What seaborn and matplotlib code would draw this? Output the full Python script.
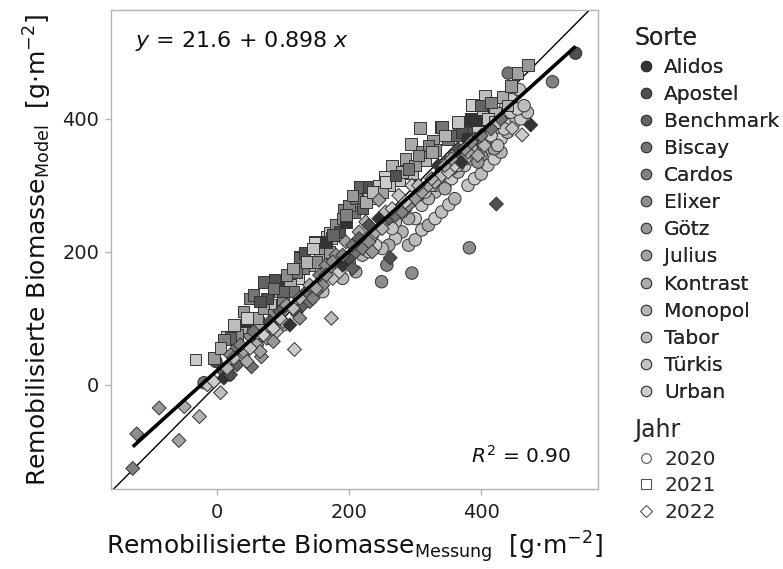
import matplotlib
matplotlib.use("Agg")
import matplotlib.pyplot as plt
from matplotlib.lines import Line2D
import seaborn as sns
import numpy as np
import pandas as pd

sns.set_theme(style="white")
plt.rcParams["font.family"] = ["DejaVu Sans"]
plt.rcParams["mathtext.fontset"] = "dejavusans"

# ---------------- data ----------------
sorten = ["Alidos", "Apostel", "Benchmark", "Biscay", "Cardos", "Elixer", "Götz",
          "Julius", "Kontrast", "Monopol", "Tabor", "Türkis", "Urban"]
jahre = ["2020", "2021", "2022"]
code = dict(zip("ABCDEFGHIJKLM", sorten))

# 2020 (circles)
x20 = [-2, -20, 9, 18, 170, 200, 220, 230, 249, 257, 290, 300, 310, 295, 320, 330, 340, 351, 360, 371,
       382, 380, 390, 400, 410, 420, 430, 340, 350, 360, 370, 380, 390, 400, 410, 417, 425, 437, 446, 458,
       441, 508, 543, 330, 345, 355, 365, 375, 385, 395, 405, 415, 430, 440, 450, 460, 470, 280, 270, 260,
       250, 240, 310, 320, 330, 300, 290, 280, 270, 400, 420, 435, 445, 210, 190, 160, 140, 120, 100, 80,
       60, 40, 215, 235, 255, 265, 285, 305, 315, 325, 335, 345, 355, 365, 375, 385, 395, 405, 415, 425,
       435, 455, 465, 30, 50, 70, 90]
y20 = [35, 3, 23, 15, 176, 185, 195, 200, 155, 180, 210, 218, 233, 168, 240, 250, 260, 271, 280, 338,
       206, 300, 310, 317, 330, 340, 350, 323, 335, 345, 350, 360, 370, 380, 390, 398, 380, 418, 429, 444,
       469, 456, 499, 290, 300, 310, 320, 330, 340, 350, 355, 365, 370, 380, 395, 400, 410, 230, 220, 210,
       205, 210, 270, 280, 300, 250, 250, 260, 245, 345, 355, 395, 410, 170, 160, 140, 130, 110, 90, 70,
       60, 40, 215, 225, 240, 235, 265, 285, 290, 300, 310, 295, 325, 330, 340, 355, 335, 365, 375, 360,
       385, 415, 420, 55, 75, 85, 100]
s20 = ("BDCF" "GHJKFE" "JKLFIMKLJM" "FLMKLMJLKM" "LMKLMJKMML" "DEBKLMJLKM" "LKMJLMKJLI"
       "KMLJKMILKG" "HMLIJKHLIG" "JKLMKLJMKL" "MIKLMJGLMK" "LMKDFHE")

# 2021 (squares)
x21 = [-33, 14, 33, 36, 59, 62, 40, 30, 50, 55, 71, 87, 105, 123, 125, 80, 95, 110, 60, 70,
       85, 100, 115, 125, 132, 148, 148, 166, 170, 173, 140, 155, 160, 180, 192, 207, 216, 229, 239, 254,
       275, 295, 315, 294, 307, 327, 330, 339, 341, 366, 381, 391, 386, 402, 406, 421, 432, 455, 471, 190,
       200, 210, 220, 185, 195, 230, 245, 260, 265, 280, 285, 300, 310, 320, 350, 360, 370, 380, 395, 410,
       420, 440, 300, 250, 170, 150, 130, 120, 100, 75, 45, 20, 10, -5, 5, 25, 45, 65, 85, 105,
       115, 135, 145, 165, 175, 195, 205, 225, 235, 255, 270, 290, 305, 325, 345, 365, 385, 400, 415, 445]
y21 = [38, 72, 86, 86, 90, 93, 110, 75, 130, 135, 155, 158, 159, 161, 193, 120, 140, 150, 100, 115,
       105, 125, 140, 191, 198, 215, 213, 222, 228, 221, 180, 195, 205, 240, 263, 260, 298, 298, 289, 313,
       308, 319, 338, 362, 386, 367, 353, 388, 388, 388, 388, 396, 421, 414, 435, 409, 433, 469, 481, 250,
       270, 280, 265, 230, 245, 280, 300, 300, 330, 320, 340, 330, 350, 360, 370, 375, 380, 370, 380, 400,
       395, 420, 300, 290, 200, 185, 175, 170, 140, 130, 95, 70, 68, 40, 55, 90, 100, 125, 145, 165,
       175, 185, 205, 215, 225, 255, 285, 275, 290, 305, 315, 325, 345, 350, 375, 395, 400, 420, 425, 450]
s21 = ("MLKJIHGFEDCBAMLKJIHGFEDCBAMLKJIHGFEDCBAMLKJIHGFEDCBAMLKJIHGFEDCBAMLKJIHGFEDCBAMLKJIHGFEDCBACEGIKM"
       "BDFHJLACEGIKMBDFHJLACEGIK")

# 2022 (diamonds)
x22 = [-128, -122, -88, -58, -50, -27, 5, -15, -5, 10, 20, 30, 52, 67, 40, 60, 75, 90, 100, 117,
       110, 120, 130, 140, 150, 160, 173, 175, 185, 190, 200, 205, 210, 220, 230, 235, 245, 240, 250, 262,
       260, 270, 280, 290, 300, 310, 320, 330, 340, 350, 360, 370, 380, 395, 405, 423, 447, 462, 475, 80,
       95, 55, 35, 20, 105, 135, 155, 165, 180, 195, 215, 225, 255, 275, 295, 335, 365, 390, 415, 145,
       125, 85, 65, 45, 15, 25, 50, 70, 85, 95, 115, 125, 140, 150, 165, 175, 190, 205, 215, 230,
       245, 265, 285, 305, 325, 345, 355, 375, 385, 400, 430]
y22 = [-126, -74, -35, -84, -33, -48, -12, 0, 5, 10, 15, 30, 27, 42, 50, 60, 70, 80, 95, 53,
       90, 110, 120, 125, 140, 150, 100, 160, 170, 180, 190, 175, 200, 205, 215, 200, 278, 230, 235, 191,
       250, 255, 260, 270, 280, 290, 300, 305, 315, 320, 330, 335, 350, 345, 360, 272, 386, 376, 391, 95,
       110, 80, 60, 45, 120, 140, 165, 180, 195, 215, 230, 245, 260, 285, 300, 330, 355, 370, 385, 130,
       100, 65, 50, 35, 25, 40, 55, 75, 85, 100, 115, 130, 150, 145, 165, 185, 195, 210, 220, 240,
       250, 265, 275, 300, 310, 330, 340, 355, 365, 375, 400]
s22 = ("EFGHIJKLMABCDGHIJKLMABCDEFKLMABCDEFGHIJBCDEFGHIJKLMAHIJBLMABCDEFGDEFGHIJKLMABCDEFGHIJKLM"
       "MLKJIHGFEDCBAMLKJIHGFEDCBAMLK")

intercept, slope = 21.6, 0.898
r2 = 0.90

# ---------------- frame ----------------
frames = []
for yr, xs, ys, ss in [("2020", x20, y20, s20), ("2021", x21, y21, s21), ("2022", x22, y22, s22)]:
    n = min(len(xs), len(ys))
    codes = (ss * 3)[:n]
    frames.append(pd.DataFrame({"Messung": xs[:n], "Model": ys[:n],
                                "Sorte": [code[c] for c in codes], "Jahr": yr}))
df = pd.concat(frames, ignore_index=True)

# grey palette (ggplot-like grey scale with gamma 2.2, start 0.2, end 0.8)
g0, g1, gam = 0.2 ** 2.2, 0.8 ** 2.2, 2.2
greys = [str(round((g0 + (g1 - g0) * i / (len(sorten) - 1)) ** (1 / gam), 3)) for i in range(len(sorten))]
palette = dict(zip(sorten, greys))
markers = {"2020": "o", "2021": "s", "2022": "D"}
sizes = {"2020": 80, "2021": 70, "2022": 50}
edge = "#333333"

fig = plt.figure(figsize=(7.83, 5.69), dpi=100)
ax = fig.add_axes([111 / 783, 1 - 489 / 569, 487 / 783, 479 / 569])

ax.axline((0, 0), slope=1, color="black", lw=1.0, zorder=1)

for yr in jahre:
    sub = df[df["Jahr"] == yr]
    sns.scatterplot(data=sub, x="Messung", y="Model", hue="Sorte", palette=palette,
                    hue_order=sorten, marker=markers[yr], s=sizes[yr], edgecolor=edge,
                    linewidth=0.7, legend=False, ax=ax, zorder=2)

xmin, xmax = df["Messung"].min(), df["Messung"].max()
xx = np.array([xmin, xmax])
ax.plot(xx, intercept + slope * xx, color="black", lw=2.6, zorder=3, solid_capstyle="butt")

ax.set_xlim(-161, 577)
ax.set_ylim(-157, 564)
ax.set_xticks([0, 200, 400])
ax.set_yticks([0, 200, 400])
for sp in ax.spines.values():
    sp.set_color("#b3b3b3")
    sp.set_linewidth(1.0)
ax.tick_params(axis="both", which="major", length=4.5, width=1.0, color="#b3b3b3",
               labelsize=14, labelcolor="#1e1e1e", direction="out", pad=4)
ax.tick_params(axis="x", pad=5.5)
ax.tick_params(bottom=True, left=True)

ax.set_xlabel(r"Remobilisierte Biomasse$_{\mathrm{Messung}}$  [g$\cdot$m$^{-2}$]", fontsize=18,
              color="#111111", labelpad=5)
ax.set_ylabel(r"Remobilisierte Biomasse$_{\mathrm{Model}}$  [g$\cdot$m$^{-2}$]", fontsize=18,
              color="#111111", labelpad=6)

ax.text(0.05, 0.935, r"$y$ = 21.6 + 0.898 $x$", transform=ax.transAxes, fontsize=16,
        ha="left", va="center", color="#111111")
ax.text(0.945, 0.07, r"$R^2$ = 0.90", transform=ax.transAxes, fontsize=14.5,
        ha="right", va="center", color="#111111")

# legends
h_sorte = [Line2D([], [], marker="o", linestyle="", markersize=7.5, markerfacecolor=palette[s],
                  markeredgecolor=edge, markeredgewidth=0.7) for s in sorten]
h_jahr = [Line2D([], [], marker=markers[y], linestyle="", markersize=7 if y != "2022" else 6,
                 markerfacecolor="white", markeredgecolor="#555555", markeredgewidth=0.8) for y in jahre]

leg1 = fig.legend(h_sorte, sorten, title="Sorte", loc="upper left", bbox_to_anchor=(626 / 783, 1 - 18 / 569),
                  frameon=False, fontsize=14.5, title_fontsize=17, handletextpad=0.3,
                  labelspacing=0.4, handlelength=1.2, borderaxespad=0)
leg1._legend_box.align = "left"
leg2 = fig.legend(h_jahr, jahre, title="Jahr", loc="upper left", bbox_to_anchor=(626 / 783, 1 - 410 / 569),
                  frameon=False, fontsize=14.5, title_fontsize=17, handletextpad=0.3,
                  labelspacing=0.38, handlelength=1.2, borderaxespad=0)
leg2._legend_box.align = "left"
fig.add_artist(leg1)

fig.savefig("out.png", dpi=100)
